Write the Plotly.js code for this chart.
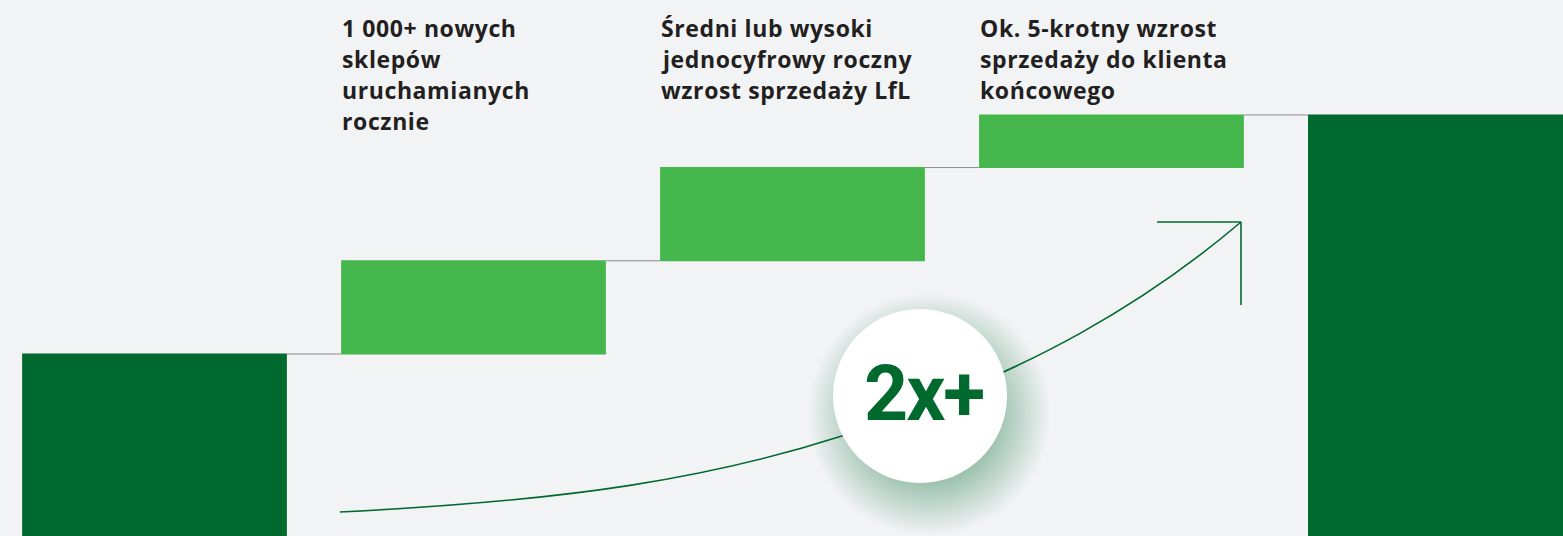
<!DOCTYPE html>
<html>
<head>
<meta charset="utf-8">
<script src="https://cdn.plot.ly/plotly-3.0.1.min.js"></script>
<style>
  html, body { margin: 0; padding: 0; background: #F2F3F5; }
  #chart { width: 1563px; height: 536px; }
</style>
</head>
<body>
<div id="chart"></div>
<script>
// ---- data ----
const categories = ['Start', 'Nowe sklepy', 'LfL', 'Sprzedaż do klienta końcowego', 'Cel'];
const measures   = ['absolute', 'relative', 'relative', 'relative', 'total'];
const values     = [100, 39, 39, 22, 0];
const stepLabels = [
  [],
  ['1 000+ nowych', 'sklepów', 'uruchamianych', 'rocznie'],
  ['Średni lub wysoki', 'jednocyfrowy roczny', 'wzrost sprzedaży LfL'],
  ['Ok. 5-krotny wzrost', 'sprzedaży do klienta', 'końcowego'],
  []
];
const badgeText = '2x+';

// ---- style ----
const DARK = '#00692E';
const LIGHT = '#44B64B';
const BG = '#F2F3F5';
const TEXT = '#231F20';
const barWidth = 0.83;
const xRange = [-0.4843, 4.4154];
const yRange = [23.85, 248.1];
const lineStep = 31;

const waterfall = {
  type: 'waterfall',
  x: categories,
  y: values,
  measure: measures,
  width: barWidth,
  offset: [-barWidth/2, -barWidth/2, -barWidth/2, -barWidth/2, -barWidth/2 + 0.031],
  base: 0,
  increasing: { marker: { color: LIGHT, line: { width: 0 } } },
  decreasing: { marker: { color: LIGHT, line: { width: 0 } } },
  totals: { marker: { color: DARK, line: { width: 0 } } },
  connector: { mode: 'between', line: { color: '#8C8C8C', width: 1 } },
  textinfo: 'none',
  hoverinfo: 'skip',
  showlegend: false
};

// soft shadow under the badge (decoration on a pixel overlay axis)
const shadow = {
  type: 'scatter',
  mode: 'markers',
  x: [929], y: [414],
  xaxis: 'x2', yaxis: 'y2',
  marker: {
    size: 244,
    color: 'rgba(0,105,46,0)',
    gradient: { type: 'radial', color: 'rgba(0,105,46,0.8)' },
    line: { width: 0 }
  },
  hoverinfo: 'skip',
  showlegend: false
};

const annotations = [];
stepLabels.forEach((lines, i) => {
  lines.forEach((t, k) => {
    annotations.push({
      xref: 'x', yref: 'paper',
      x: i - barWidth/2, y: 1,
      xanchor: 'left', yanchor: 'top', align: 'left',
      xshift: -1, yshift: -10 - k * lineStep,
      text: t, showarrow: false,
      font: { family: '"Open Sans", Lato, sans-serif', size: 23, color: TEXT, weight: 700 }
    });
  });
});
const badgeIndex = annotations.length;
annotations.push({
  xref: 'x2', yref: 'y2', x: 923, y: 394,
  xanchor: 'center', yanchor: 'middle',
  text: '<b>' + badgeText + '</b>', showarrow: false,
  font: { family: 'Roboto, "Liberation Sans", sans-serif', size: 77, color: DARK }
});

const shapes = [
  { type: 'path', xref: 'x2', yref: 'y2', layer: 'above',
    path: 'M340,512 C533,502.4 727,485.2 920,408 C1027,365.2 1134,313 1241,222',
    line: { color: DARK, width: 1.6 } },
  { type: 'line', xref: 'x2', yref: 'y2', layer: 'above',
    x0: 1157, y0: 222, x1: 1241, y1: 222, line: { color: DARK, width: 1.6 } },
  { type: 'line', xref: 'x2', yref: 'y2', layer: 'above',
    x0: 1241, y0: 222, x1: 1241, y1: 305, line: { color: DARK, width: 1.6 } },
  { type: 'circle', xref: 'x2', yref: 'y2', layer: 'above',
    x0: 833, y0: 309, x1: 1007, y1: 483,
    fillcolor: '#FFFFFF', line: { width: 0 } }
];

const layout = {
  width: 1563, height: 536,
  margin: { l: 0, r: 0, t: 0, b: 0, pad: 0 },
  paper_bgcolor: BG, plot_bgcolor: BG,
  showlegend: false,
  xaxis: { type: 'category', range: xRange, visible: false, fixedrange: true },
  yaxis: { range: yRange, visible: false, fixedrange: true },
  xaxis2: { overlaying: 'x', range: [0, 1563], visible: false, fixedrange: true },
  yaxis2: { overlaying: 'y', range: [536, 0], visible: false, fixedrange: true },
  annotations: annotations,
  shapes: shapes
};

Plotly.newPlot('chart', [waterfall, shadow], layout, { staticPlot: true, displayModeBar: false })
  .then(gd => {
    // typographic tracking: wider for step labels, slightly tighter for the badge
    gd.querySelectorAll('.annotation').forEach(g => {
      const idx = +g.getAttribute('data-index');
      const txt = g.querySelector('.annotation-text');
      if (!txt) return;
      txt.style.letterSpacing = (idx === badgeIndex) ? '-2px' : '0.6px';
    });
  });
</script>
</body>
</html>
